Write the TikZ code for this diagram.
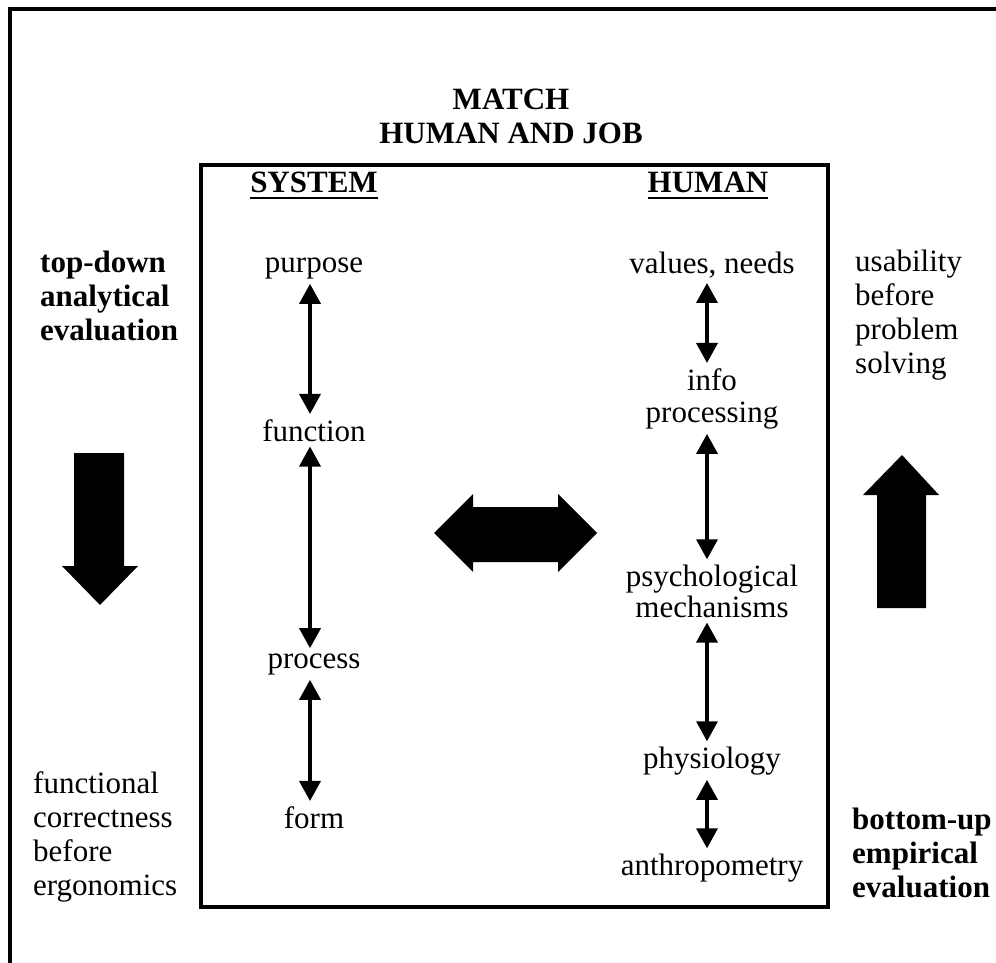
\documentclass[tikz,border=0pt]{standalone}
\usepackage{fontspec}
\setmainfont{Liberation Serif}
\usetikzlibrary{arrows.meta}

\begin{document}
\begin{tikzpicture}[x=1pt,y=-1pt,
  txt/.style={font=\fontsize{31}{34}\selectfont},
  lbl/.style={txt,anchor=base,inner sep=5pt},
  head/.style={anchor=base,inner sep=0pt,font=\fontsize{31}{34}\selectfont\bfseries},
  side/.style={txt,anchor=base west,inner sep=0pt,align=left},
  sidebold/.style={side,font=\fontsize{31}{34}\selectfont\bfseries},
  link/.style={line width=3.5pt,{Triangle[width=21pt,length=20pt]}-{Triangle[width=21pt,length=20pt]}},
  frame/.style={line width=3.5pt},
  bigarrow/.style={fill=black}]

\useasboundingbox (0,0) rectangle (996,963);

% open outer frame
\draw[frame] (10,963) -- (10,9) -- (996,9);

% central box
\node[draw,frame,minimum width=627pt,minimum height=742pt,inner sep=0pt] (box) at (514.5,536) {};

% title
\node[head] (match) at (511,110) {MATCH};
\node[head] (hjob) at (511,143) {HUMAN AND JOB};

% column headings
\node[head] (system) at (314,193) {SYSTEM};
\node[head] (human) at (708,193) {HUMAN};
\draw[line width=2.5pt] ([yshift=-5pt]system.base west) -- ([yshift=-5pt]system.base east);
\draw[line width=2.5pt] ([yshift=-5pt]human.base west) -- ([yshift=-5pt]human.base east);

% system levels
\node[lbl] (purpose) at (314,272) {purpose};
\node[lbl] (function) at (314,441) {function};
\node[lbl] (process) at (314,668) {process};
\node[lbl] (form) at (314,828) {form};

% human levels
\node[lbl] (values) at (712,273) {values, needs};
\node[lbl] (info) at (712,390) {info};
\node[lbl] (processing) at (712,422) {processing};
\node[lbl] (psych) at (712,586) {psychological};
\node[lbl] (mech) at (712,617) {mechanisms};
\node[lbl] (physio) at (712,768) {physiology};
\node[lbl] (anthro) at (712,875) {anthropometry};

% two-way links
\draw[link] ([xshift=-4pt]purpose.south) -- ([xshift=-4pt]function.north);
\draw[link] ([xshift=-4pt]function.south) -- ([xshift=-4pt]process.north);
\draw[link] ([xshift=-4pt]process.south) -- ([xshift=-4pt]form.north);
\draw[link] ([xshift=-5pt]values.south) -- ([xshift=-5pt]info.north);
\draw[link] ([xshift=-5pt]processing.south) -- ([xshift=-5pt]psych.north);
\draw[link] ([xshift=-5pt]mech.south) -- ([xshift=-5pt]physio.north);
\draw[link] ([xshift=-5pt]physio.south) -- ([xshift=-5pt]anthro.north);

% side notes (anchored at the baseline of the last line)
\node[sidebold] (topdown) at (40,340) {top-down\\analytical\\evaluation};
\node[side] (functional) at (33,895) {functional\\correctness\\before\\ergonomics};
\node[side] (usability) at (855,373) {usability\\before\\problem\\solving};
\node[sidebold] (bottomup) at (852,897) {bottom-up\\empirical\\evaluation};

% block arrows
\fill[bigarrow] (74,453) -- (124,453) -- (124,566) -- (138,566) -- (100,605) -- (62,566) -- (74,566) -- cycle;
\fill[bigarrow] (877,608) -- (926,608) -- (926,495) -- (939,495) -- (902,455) -- (863,495) -- (877,495) -- cycle;
\fill[bigarrow] (434,533) -- (473,494) -- (473,507) -- (558,507) -- (558,494) -- (597,533) -- (558,572) -- (558,562) -- (473,562) -- (473,572) -- cycle;
\end{tikzpicture}
\end{document}
